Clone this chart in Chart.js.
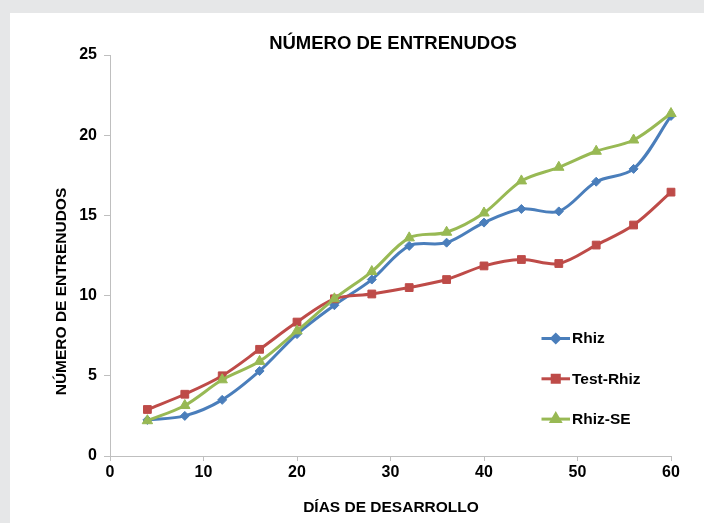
<!DOCTYPE html>
<html>
<head>
<meta charset="utf-8">
<script src="https://cdn.jsdelivr.net/npm/chart.js@4/dist/chart.umd.min.js"></script>
<style>
  html, body { margin: 0; padding: 0; width: 704px; height: 523px; overflow: hidden; background: #e6e7e8; }
  #frame { position: absolute; left: 10px; top: 13px; width: 694px; height: 510px; background: #ffffff; }
  canvas { display: block; }
</style>
</head>
<body>
<div id="frame"><canvas id="chart" width="694" height="510"></canvas></div>
<script>
// Días de desarrollo (eje X)
const dias = [4, 8, 12, 16, 20, 24, 28, 32, 36, 40, 44, 48, 52, 56, 60];

// Número de entrenudos por tratamiento
const rhiz     = [2.25, 2.5, 3.5, 5.3, 7.6, 9.4, 11.0, 13.1, 13.3, 14.55, 15.4, 15.25, 17.1, 17.9, 21.2];
const testRhiz = [2.9, 3.85, 5.0, 6.65, 8.35, 9.8, 10.1, 10.5, 11.0, 11.85, 12.25, 12.0, 13.15, 14.4, 16.45];
const rhizSE   = [2.2, 3.15, 4.75, 5.9, 7.8, 9.8, 11.5, 13.6, 13.95, 15.15, 17.15, 18.0, 19.0, 19.7, 21.35];

// Etiquetas de los ejes
const xTicks = [0, 10, 20, 30, 40, 50, 60];
const yTicks = [0, 5, 10, 15, 20, 25];

const titulo = 'NÚMERO DE ENTRENUDOS';
const tituloX = 'DÍAS DE DESARROLLO';
const tituloY = 'NÚMERO DE ENTRENUDOS';

const FONT = "'Liberation Sans', Arial, sans-serif";
const AXIS_COLOR = '#bfbfbf';

function serie(label, values, color, style, radius, order) {
  return {
    label,
    data: dias.map((d, i) => ({ x: d, y: values[i] })),
    borderColor: color,
    backgroundColor: color,
    borderWidth: 3,
    tension: 0.33,
    clip: false,
    pointStyle: style,
    pointRadius: radius,
    pointBorderWidth: 1,
    pointBorderColor: color,
    pointBackgroundColor: color,
    order
  };
}

// Títulos y leyenda dibujados sobre el lienzo
const textLayer = {
  id: 'textLayer',
  afterDraw(chart) {
    const { ctx, chartArea: a } = chart;
    const cx = (a.left + a.right) / 2;
    ctx.save();
    ctx.fillStyle = '#000';
    ctx.textAlign = 'center';
    ctx.textBaseline = 'middle';

    ctx.font = `bold 18.5px ${FONT}`;
    ctx.fillText(titulo, cx + 2.5, a.top - 11);

    ctx.font = `bold 15.5px ${FONT}`;
    ctx.fillText(tituloX, cx + 0.5, a.bottom + 52);

    ctx.save();
    ctx.translate(a.left - 48.5, (a.top + a.bottom) / 2 + 36);
    ctx.rotate(-Math.PI / 2);
    ctx.fillText(tituloY, 0, 0);
    ctx.restore();

    // Leyenda
    ctx.font = `bold 15.5px ${FONT}`;
    ctx.textAlign = 'left';
    const legendRadius = [4, 5, 5];
    chart.data.datasets.forEach((ds, i) => {
      const y = a.top + 283.5 + i * 40.3;
      const x0 = a.left + 431.5;
      const x1 = a.left + 460;
      ctx.strokeStyle = ds.borderColor;
      ctx.lineWidth = 3;
      ctx.beginPath();
      ctx.moveTo(x0, y);
      ctx.lineTo(x1, y);
      ctx.stroke();
      ctx.fillStyle = ds.backgroundColor;
      Chart.helpers.drawPoint(ctx, {
        pointStyle: ds.pointStyle,
        radius: legendRadius[i],
        rotation: 0,
        borderWidth: 1
      }, (x0 + x1) / 2, y);
      ctx.fillStyle = '#000';
      ctx.fillText(ds.label, a.left + 462, y + 0.5);
    });
    ctx.restore();
  }
};

new Chart(document.getElementById('chart'), {
  type: 'line',
  data: {
    datasets: [
      serie('Rhiz', rhiz, '#4a7ebb', 'rectRot', 4.5, 3),
      serie('Test-Rhiz', testRhiz, '#be4b48', 'rect', 5.5, 2),
      serie('Rhiz-SE', rhizSE, '#98b954', 'triangle', 6, 1)
    ]
  },
  options: {
    responsive: false,
    animation: false,
    devicePixelRatio: 1,
    layout: { padding: { top: 42, right: 33, bottom: 0, left: 0 } },
    plugins: {
      legend: { display: false },
      title: { display: false },
      tooltip: { enabled: false }
    },
    scales: {
      x: {
        type: 'linear',
        min: 0,
        max: 60,
        afterBuildTicks: s => { s.ticks = xTicks.map(v => ({ value: v })); },
        afterFit: s => { s.height = 67; },
        grid: { drawOnChartArea: false, drawTicks: true, tickLength: 5, color: AXIS_COLOR, lineWidth: 1 },
        border: { display: true, color: AXIS_COLOR, width: 1 },
        ticks: { color: '#000', padding: 2, maxRotation: 0, font: { family: FONT, size: 16, weight: 'bold' } }
      },
      y: {
        type: 'linear',
        min: 0,
        max: 25,
        afterBuildTicks: s => { s.ticks = yTicks.map(v => ({ value: v })); },
        afterFit: s => { s.width = 100; },
        grid: { drawOnChartArea: false, drawTicks: true, tickLength: 6, color: AXIS_COLOR, lineWidth: 1 },
        border: { display: true, color: AXIS_COLOR, width: 1 },
        ticks: { color: '#000', padding: 7, font: { family: FONT, size: 16, weight: 'bold' } }
      }
    }
  },
  plugins: [textLayer]
});
</script>
</body>
</html>
